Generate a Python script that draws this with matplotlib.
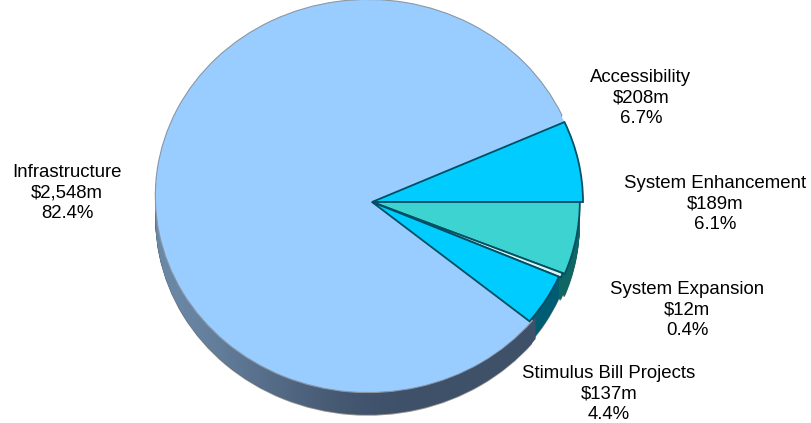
import numpy as np
import matplotlib
matplotlib.use("Agg")
import matplotlib.pyplot as plt
from matplotlib.colors import LinearSegmentedColormap
from matplotlib.patches import Polygon, Wedge

plt.rcParams['font.family'] = ['Liberation Sans', 'DejaVu Sans']

# clockwise from the top edge of Accessibility
names = ['Accessibility', 'System Enhancement', 'System Expansion', 'Stimulus Bill Projects', 'Infrastructure']
amounts = [208, 189, 12, 137, 2548]
amount_labels = ['$208m', '$189m', '$12m', '$137m', '$2,548m']
percents = ['6.7%', '6.1%', '0.4%', '4.4%', '82.4%']
top_colors = ['#00ccff', '#3dd3d0', '#d8f6f6', '#00ccff', 'none']
side_colors = ['none', '#0f6664', '#0f6664', '#005c73', 'none']
rim_colors = ['none', '#8f8f8f', '#8f8f8f', '#8f8f8f', 'none']
infra_top = ['none', 'none', 'none', 'none', '#99ccff']
infra_side = ['none', 'none', 'none', 'none', '#44566e']
slice_radius = [1, 0.985, 0.975, 0.965, 1]
label_x = [641, 715, 687, 609, 67]
label_y = [98, 204, 310, 394, 193]

W, H = 811, 423
cx, cy = 372, 202
rx, ry = 211, 195
depth = 22 / ry
start = 24.2
infra_center = (-4 / rx, 6 / ry)
infra_radius = 1.008

fig = plt.figure(figsize=(W / 100, H / 100), dpi=100)
ax = fig.add_axes([0, 0, 1, 1])


def pie(colors, center=(0, 0), radius=1, **props):
    wedges, _ = ax.pie(amounts, colors=colors, startangle=start, counterclock=False, center=center,
                       radius=radius, frame=True, wedgeprops=props)
    for w, r in zip(wedges[:4], slice_radius):
        w.set_radius(radius * r)
    return wedges


# grey jagged rim under the side
pie(['none'] * 4 + ['#8f8f8f'], (infra_center[0], infra_center[1] - depth - 0.006), infra_radius,
    linewidth=0, zorder=0.5)
pie(rim_colors, (0, -depth - 0.006), linewidth=0, zorder=0.5)

# side of the pie, stacked copies going up to the top face
for d in np.linspace(depth, 0.005, 30):
    pie(side_colors, (0, -d), linewidth=0, zorder=1)
    pie(infra_side, (infra_center[0], infra_center[1] - d), infra_radius, linewidth=0, zorder=1)

# gradient on the infrastructure side
ang = np.radians(np.linspace(180, 322, 200))
upper = np.c_[infra_radius * np.cos(ang) + infra_center[0], infra_radius * np.sin(ang) + infra_center[1]]
lower = upper - [0, depth]
side = Polygon(np.r_[upper, lower[::-1]], closed=True, transform=ax.transData, facecolor='none', edgecolor='none')
ax.add_patch(side)
grad = np.array([[0.0, 0.3, 0.62, 0.9, 1.0, 1.0, 1.0]])
img = ax.imshow(grad, extent=(-1.03, 0.8, -1.3, 0.2), aspect='auto', zorder=2, interpolation='bicubic',
                cmap=LinearSegmentedColormap.from_list('side', ['#6b88a6', '#3f5069']))
img.set_clip_path(side)

# top faces, the extra ones close the gap at the apex
pie(infra_top, infra_center, infra_radius, linewidth=0, zorder=3)
outline = pie(['none'] * 5, infra_center, infra_radius, linewidth=0.8, edgecolor='#8a98a8', zorder=3.1)
for w in outline[:-1]:
    w.set_visible(False)
pie(infra_top, (0, 0), 0.97, linewidth=0, zorder=3.2)
ax.add_patch(Wedge((0, 0), 1, start, start + 45, facecolor='#99ccff', linewidth=0, zorder=3.2))
wedges = pie(top_colors, linewidth=1.3, edgecolor='#004f63', zorder=4)
wedges[-1].set_visible(False)

ax.set_xlim(-cx / rx, (W - cx) / rx)
ax.set_ylim(-(H - cy) / ry, cy / ry)
ax.set_aspect('auto')
ax.axis('off')

for name, amount, pct, x, y in zip(names, amount_labels, percents, label_x, label_y):
    fig.text(x / W, 1 - y / H, f"{name}\n{amount}\n{pct}", ha='center', va='center',
             fontsize=13.4, color='black', linespacing=1.27)

fig.savefig('out.png', dpi=100)
